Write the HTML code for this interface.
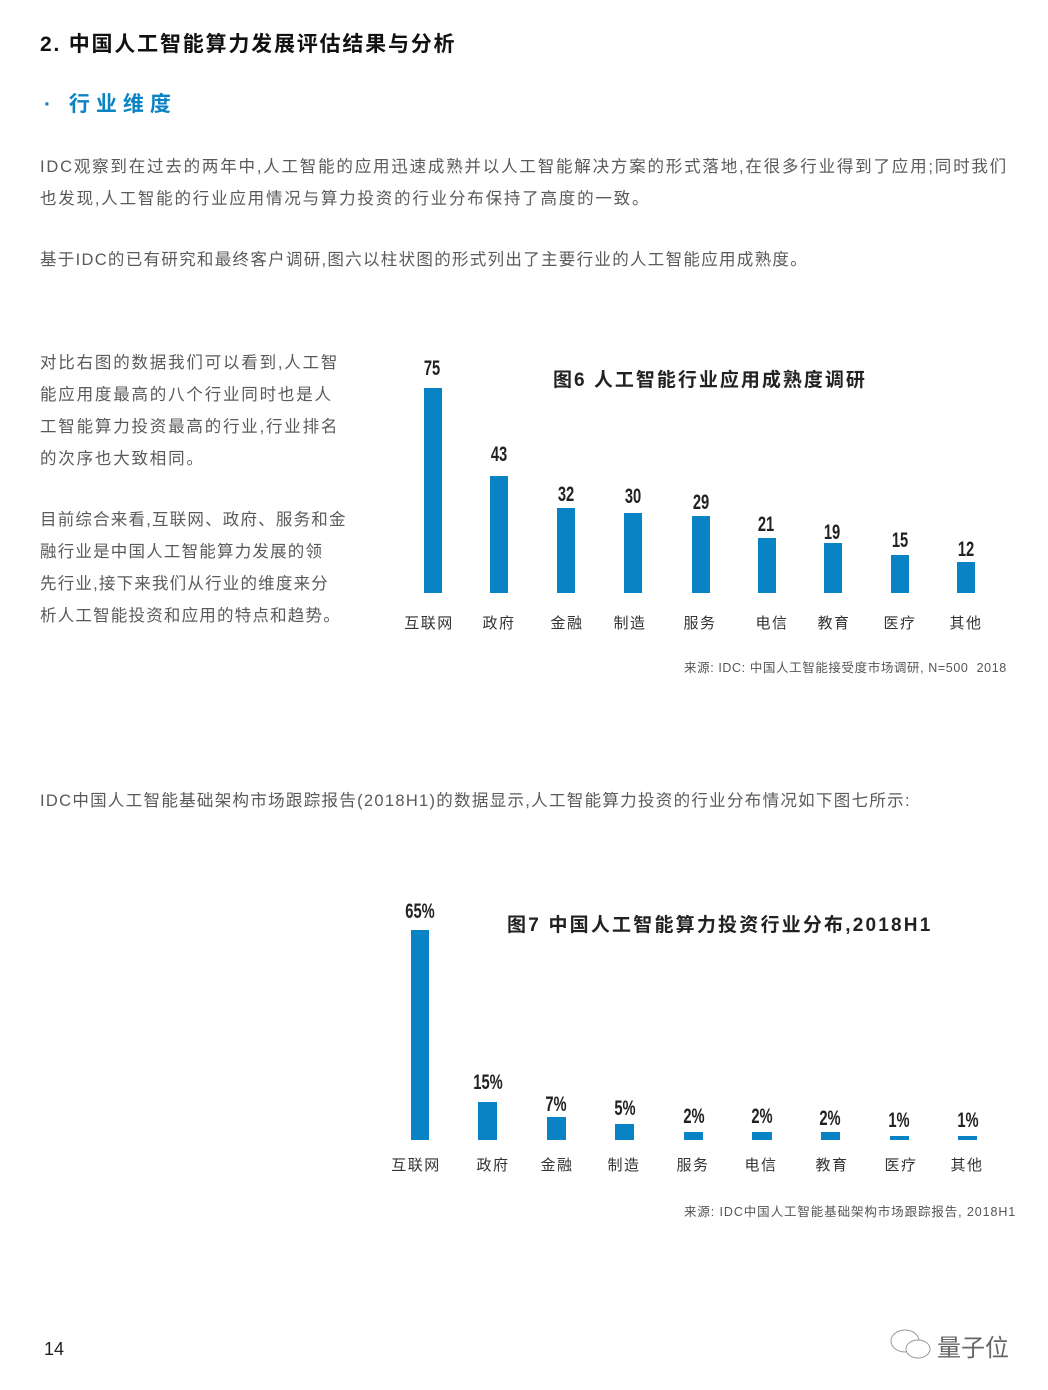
<!DOCTYPE html>
<html><head><meta charset="utf-8"><style>
body{margin:0;width:1048px;height:1390px;background:#fff;position:relative;overflow:hidden;font-family:"Liberation Sans","Noto Sans CJK SC",sans-serif;}
.t{position:absolute;white-space:nowrap;}
.p{color:#5a5a5a;font-size:16.5px;letter-spacing:1.8px;}
.b{position:absolute;background:#0a83c4;}
.v{position:absolute;font-family:"Liberation Sans Narrow","Liberation Sans",sans-serif;font-size:21px;font-weight:bold;color:#222;transform:translateX(-50%) scaleX(0.7);white-space:nowrap;}
.l{position:absolute;font-size:15px;color:#333;transform:translateX(-50%);white-space:nowrap;letter-spacing:1.5px;}
</style></head><body>
<div class="t" style="left:40px;top:28px;font-size:21px;font-weight:bold;color:#111;letter-spacing:1.8px;">2. 中国人工智能算力发展评估结果与分析</div>
<div class="t" style="left:44px;top:88px;font-size:21px;font-weight:bold;color:#0a83c4;letter-spacing:6px;">· 行业维度</div>
<div class="t p" style="left:40px;top:153px;">IDC观察到在过去的两年中,人工智能的应用迅速成熟并以人工智能解决方案的形式落地,在很多行业得到了应用;同时我们</div>
<div class="t p" style="left:40px;top:185px;">也发现,人工智能的行业应用情况与算力投资的行业分布保持了高度的一致。</div>
<div class="t p" style="left:40px;top:246px;letter-spacing:1.3px;">基于IDC的已有研究和最终客户调研,图六以柱状图的形式列出了主要行业的人工智能应用成熟度。</div>
<div class="t p" style="left:40px;top:347px;line-height:32px;">对比右图的数据我们可以看到,人工智<br>能应用度最高的八个行业同时也是人<br>工智能算力投资最高的行业,行业排名<br>的次序也大致相同。</div>
<div class="t p" style="left:40px;top:504px;line-height:32px;letter-spacing:1.2px;">目前综合来看,互联网、政府、服务和金<br>融行业是中国人工智能算力发展的领<br>先行业,接下来我们从行业的维度来分<br>析人工智能投资和应用的特点和趋势。</div>

<div class="t" style="left:553px;top:365px;font-size:19px;font-weight:bold;color:#222;letter-spacing:2px;">图6 人工智能行业应用成熟度调研</div>
<div class="b" style="left:424px;top:388px;width:18px;height:205px"></div>
<div class="b" style="left:490px;top:476px;width:18px;height:117px"></div>
<div class="b" style="left:557px;top:508px;width:18px;height:85px"></div>
<div class="b" style="left:624px;top:513px;width:18px;height:80px"></div>
<div class="b" style="left:692px;top:516px;width:18px;height:77px"></div>
<div class="b" style="left:758px;top:538px;width:18px;height:55px"></div>
<div class="b" style="left:824px;top:543px;width:18px;height:50px"></div>
<div class="b" style="left:891px;top:555px;width:18px;height:38px"></div>
<div class="b" style="left:957px;top:562px;width:18px;height:31px"></div>
<div class="v" style="left:432px;top:357px">75</div>
<div class="v" style="left:499px;top:443px">43</div>
<div class="v" style="left:566px;top:483px">32</div>
<div class="v" style="left:633px;top:485px">30</div>
<div class="v" style="left:701px;top:491px">29</div>
<div class="v" style="left:766px;top:513px">21</div>
<div class="v" style="left:832px;top:521px">19</div>
<div class="v" style="left:900px;top:529px">15</div>
<div class="v" style="left:966px;top:538px">12</div>
<div class="l" style="left:429px;top:612px">互联网</div>
<div class="l" style="left:499px;top:612px">政府</div>
<div class="l" style="left:567px;top:612px">金融</div>
<div class="l" style="left:630px;top:612px">制造</div>
<div class="l" style="left:700px;top:612px">服务</div>
<div class="l" style="left:772px;top:612px">电信</div>
<div class="l" style="left:834px;top:612px">教育</div>
<div class="l" style="left:900px;top:612px">医疗</div>
<div class="l" style="left:966px;top:612px">其他</div>
<div class="t" style="left:684px;top:657px;font-size:12.5px;color:#555;letter-spacing:0.6px;">来源: IDC: 中国人工智能接受度市场调研, N=500&nbsp; 2018</div>

<div class="t p" style="left:40px;top:787px;letter-spacing:1.3px;">IDC中国人工智能基础架构市场跟踪报告(2018H1)的数据显示,人工智能算力投资的行业分布情况如下图七所示:</div>

<div class="t" style="left:507px;top:910px;font-size:19px;font-weight:bold;color:#222;letter-spacing:2.2px;">图7 中国人工智能算力投资行业分布,2018H1</div>
<div class="b" style="left:411px;top:930px;width:18px;height:210px"></div>
<div class="b" style="left:478px;top:1102px;width:19px;height:38px"></div>
<div class="b" style="left:547px;top:1117px;width:19px;height:23px"></div>
<div class="b" style="left:615px;top:1124px;width:19px;height:16px"></div>
<div class="b" style="left:684px;top:1132px;width:19px;height:8px"></div>
<div class="b" style="left:752px;top:1132px;width:20px;height:8px"></div>
<div class="b" style="left:821px;top:1132px;width:19px;height:8px"></div>
<div class="b" style="left:890px;top:1136px;width:19px;height:4px"></div>
<div class="b" style="left:958px;top:1136px;width:19px;height:4px"></div>
<div class="v" style="left:420px;top:900px">65%</div>
<div class="v" style="left:488px;top:1071px">15%</div>
<div class="v" style="left:556px;top:1093px">7%</div>
<div class="v" style="left:625px;top:1097px">5%</div>
<div class="v" style="left:694px;top:1105px">2%</div>
<div class="v" style="left:762px;top:1105px">2%</div>
<div class="v" style="left:830px;top:1107px">2%</div>
<div class="v" style="left:899px;top:1109px">1%</div>
<div class="v" style="left:968px;top:1109px">1%</div>
<div class="l" style="left:416px;top:1154px">互联网</div>
<div class="l" style="left:493px;top:1154px">政府</div>
<div class="l" style="left:557px;top:1154px">金融</div>
<div class="l" style="left:624px;top:1154px">制造</div>
<div class="l" style="left:693px;top:1154px">服务</div>
<div class="l" style="left:761px;top:1154px">电信</div>
<div class="l" style="left:832px;top:1154px">教育</div>
<div class="l" style="left:901px;top:1154px">医疗</div>
<div class="l" style="left:967px;top:1154px">其他</div>
<div class="t" style="left:684px;top:1201px;font-size:12.5px;color:#555;letter-spacing:0.9px;">来源: IDC中国人工智能基础架构市场跟踪报告, 2018H1</div>

<div class="t" style="left:44px;top:1339px;font-size:18px;color:#222;">14</div>
<svg class="t" style="left:888px;top:1326px" width="50" height="36" viewBox="0 0 50 36"><ellipse cx="17" cy="15" rx="14" ry="11" fill="none" stroke="#999" stroke-width="1"/><ellipse cx="30" cy="23" rx="12" ry="9" fill="#fff" stroke="#999" stroke-width="1"/></svg>
<div class="t" style="left:937px;top:1328px;font-size:24px;color:#666;">量子位</div>
</body></html>
